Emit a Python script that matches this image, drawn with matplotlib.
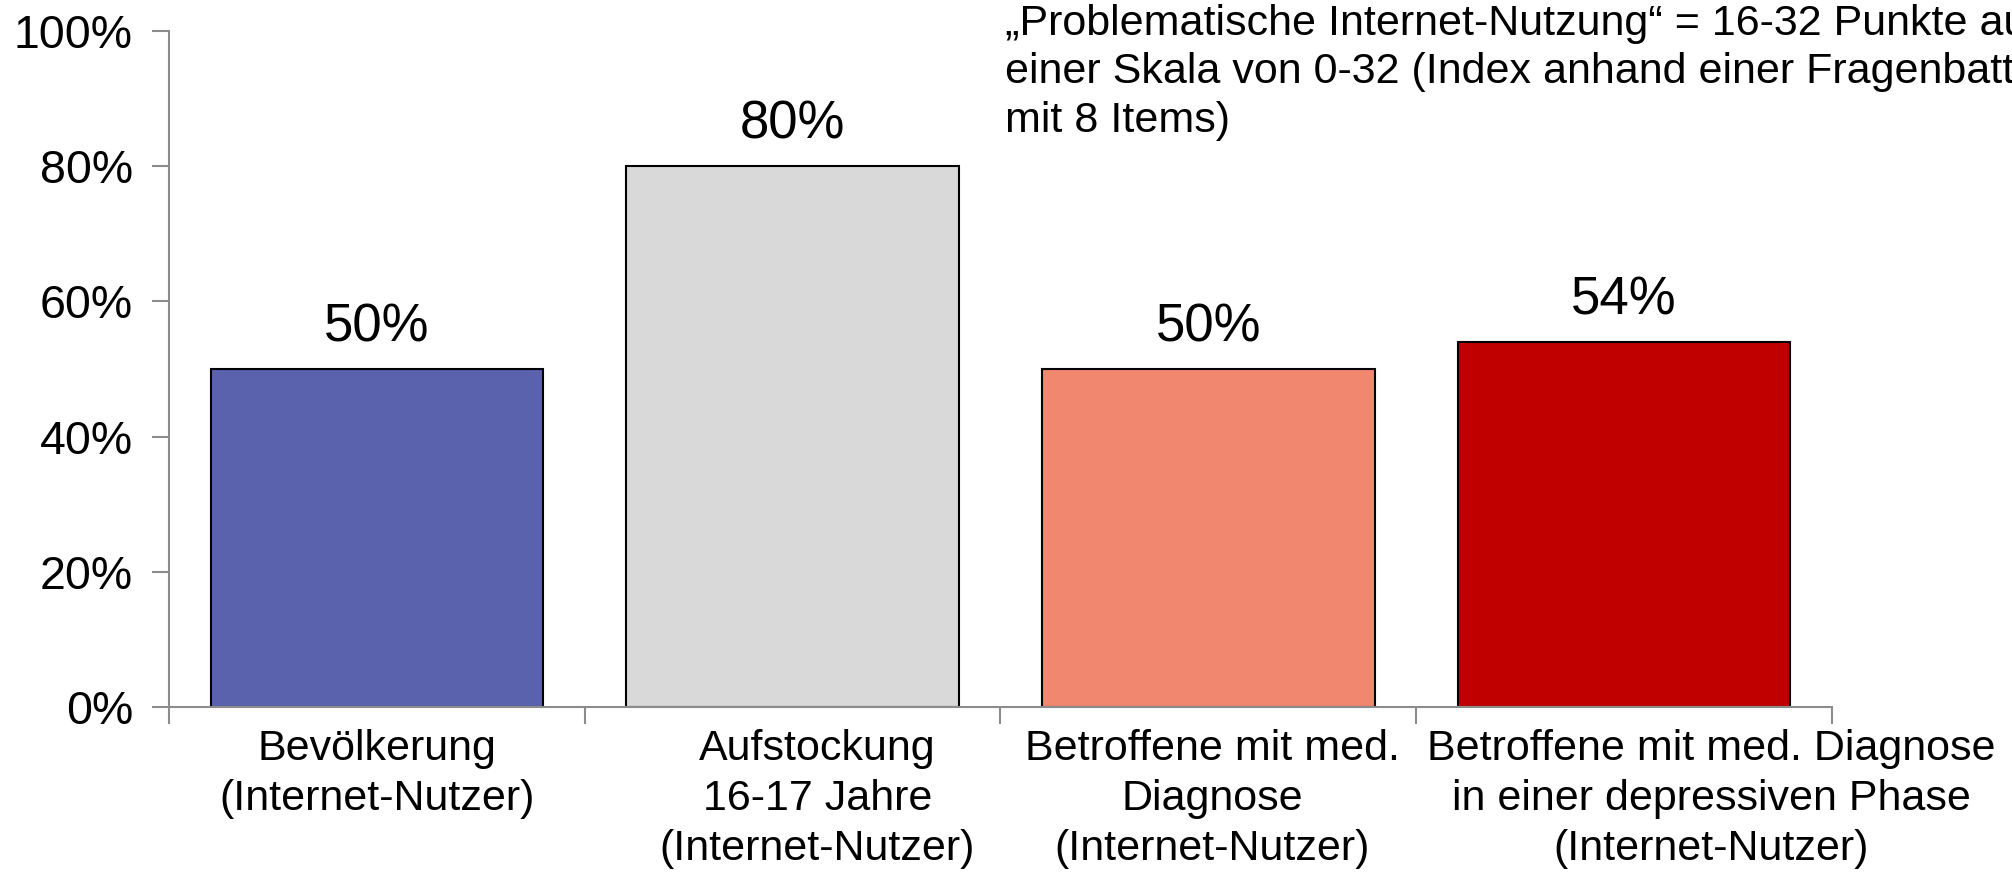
import numpy as np
import matplotlib.pyplot as plt

plt.rcParams['font.family'] = ['Liberation Sans', 'DejaVu Sans']

categories = ["Bevölkerung\n(Internet-Nutzer)",
              "Aufstockung\n16-17 Jahre\n(Internet-Nutzer)",
              "Betroffene mit med.\nDiagnose\n(Internet-Nutzer)",
              "Betroffene mit med. Diagnose\nin einer depressiven Phase\n(Internet-Nutzer)"]
values = [50, 80, 50, 54]
colors = ["#5A62AE", "#D9D9D9", "#F2876F", "#C00000"]
note = ("\u201eProblematische Internet-Nutzung\u201c = 16-32 Punkte auf\n"
        "einer Skala von 0-32 (Index anhand einer Fragenbatterie\n"
        "mit 8 Items)")
# labels are not quite centred under their bars in the original
label_shift = [0.0, 0.06, 0.01, 0.21]

fig = plt.figure(figsize=(20.12, 8.77), dpi=100)
ax = fig.add_axes([0.084, 0.194, 0.8265, 0.7707])

x = np.arange(len(values))
ax.bar(x, values, width=0.8, color=colors, edgecolor="black", linewidth=1.5, zorder=2)
for xi, v in zip(x, values):
    ax.annotate("{}%".format(v), (xi, v), xytext=(0, 12), textcoords="offset points",
                ha="center", va="bottom", fontsize=38)

ax.set_xlim(-0.5, len(values) - 0.5)
ax.set_ylim(0, 100)
ax.set_yticks(np.arange(0, 101, 20))
ax.set_yticklabels(["{}%".format(t) for t in range(0, 101, 20)], fontsize=33.5)

ax.set_xticks(np.arange(-0.5, len(values), 1))
ax.set_xticklabels([])
ax.set_xticks(x + np.array(label_shift), minor=True)
ax.set_xticklabels(categories, minor=True, fontsize=31, va="top", linespacing=1.32)
ax.tick_params(axis="x", which="minor", length=0, pad=16)
ax.tick_params(axis="x", which="major", length=12, width=1.5, color="#8C8C8C")
ax.tick_params(axis="y", length=12, width=1.5, color="#8C8C8C", pad=14)

for s in ["top", "right"]:
    ax.spines[s].set_visible(False)
for s in ["left", "bottom"]:
    ax.spines[s].set_color("#8C8C8C")
    ax.spines[s].set_linewidth(1.5)
    ax.spines[s].set_zorder(3)

fig.text(1005 / 2012, 1 - 4 / 877, note, ha="left", va="top", fontsize=31, linespacing=1.27)

plt.savefig("out.png", dpi=100)
